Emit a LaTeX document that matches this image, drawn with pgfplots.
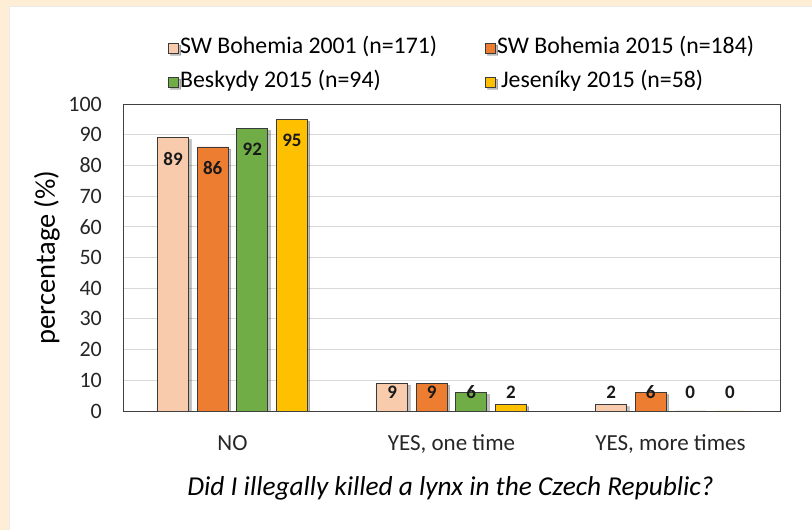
\documentclass[border=0pt]{standalone}
\usepackage{fontspec}
\setmainfont{Carlito}
\usepackage{pgfplots}
\pgfplotsset{compat=1.18}

\definecolor{cream}{HTML}{FDEED5}
\definecolor{peach}{HTML}{F8CBAD}
\definecolor{orangeS}{HTML}{ED7D31}
\definecolor{greenB}{HTML}{70AD47}
\definecolor{goldJ}{HTML}{FFC000}
\definecolor{edge}{HTML}{3A3A3A}

\tikzset{
  barshadow/.style={preaction={fill=black, opacity=0.25,
      transform canvas={xshift=2.5bp, yshift=-2bp}}}
}

\begin{document}
\begin{tikzpicture}
% page background and white panel
\useasboundingbox (0,0) rectangle (812bp,530bp);
\fill[cream] (0,0) rectangle (812bp,530bp);
\fill[white] (9bp,0) rectangle (812bp,524bp);
\draw[black!8, line width=0.8bp] (9bp,0) -- (9bp,524bp) -- (812bp,524bp);

\begin{axis}[
  at={(123bp,119bp)}, anchor=south west,
  scale only axis, width=657bp, height=307bp,
  ybar=8.6bp, bar width=31bp,
  xmin=-0.5, xmax=2.5,
  ymin=0, ymax=100,
  ytick={0,10,...,100},
  xtick={0,1,2},
  xticklabels={NO, {YES, one time}, {YES, more times}},
  xtick style={draw=none},
  ytick style={draw=none},
  extra x ticks={-0.5,0.5,1.5,2.5},
  extra x tick labels={},
  extra x tick style={tick align=outside, major tick length=9bp,
    tick style={draw=black!80, line width=0.9bp}},
  ymajorgrids,
  grid style={black!15, line width=0.8bp},
  axis line style={black!75, line width=0.9bp},
  /pgf/number format/assume math mode=true,
  tick label style={font=\fontsize{22bp}{26bp}\selectfont, text=black!85},
  yticklabel style={inner sep=0pt, xshift=-21bp},
  xticklabel style={inner sep=0pt, text height=14bp, text depth=4bp, yshift=-21bp,
    font=\fontsize{23bp}{27bp}\selectfont},
  ylabel={percentage (\%)},
  every axis y label/.style={at={(axis description cs:-0.1157,0.5)},
    rotate=90, anchor=center, font=\fontsize{28.5bp}{32bp}\selectfont},
  xlabel={\itshape Did I illegally\ killed a lynx in the Czech Republic?},
  every axis x label/.style={at={(axis description cs:0.4985,-0.251)},
    anchor=center, font=\fontsize{27.3bp}{31bp}\selectfont},
  visualization depends on={rawy \as \rawy},
  nodes near coords,
  nodes near coords style={anchor=center, inner sep=0pt,
    font=\bfseries\fontsize{19bp}{22bp}\selectfont, text=black!90,
    yshift={(max(\rawy-6.8,6.2)-\rawy)*3.0815}},
  legend columns=2,
  legend cell align=left,
  legend image code/.code={%
    \draw[#1, draw=edge, line width=0.9bp] (0bp,-5bp) rectangle (10bp,5bp);},
  legend style={draw=none, fill=none,
    at={(axis description cs:0.5155,1.127)}, anchor=center,
    font=\fontsize{23.8bp}{28bp}\selectfont,
    nodes={inner ysep=2bp, inner xsep=1.5bp, text height=15bp, text depth=5bp},
    row sep=10bp,
    /tikz/every even column/.append style={column sep=46bp}},
]
\addplot[fill=peach, draw=edge, line width=0.9bp, barshadow]
  coordinates {(0,89) (1,9) (2,2)};
\addlegendentry{SW Bohemia 2001 (n=171)}
\addplot[fill=orangeS, draw=edge, line width=0.9bp, barshadow]
  coordinates {(0,86) (1,9) (2,6)};
\addlegendentry{SW Bohemia 2015 (n=184)}
\addplot[fill=greenB, draw=edge, line width=0.9bp, barshadow]
  coordinates {(0,92) (1,6) (2,0)};
\addlegendentry{Beskydy 2015 (n=94)}
\addplot[fill=goldJ, draw=edge, line width=0.9bp, barshadow]
  coordinates {(0,95) (1,2) (2,0)};
\addlegendentry{\hspace*{4bp}Jeseníky 2015 (n=58)}
\end{axis}
\end{tikzpicture}
\end{document}
